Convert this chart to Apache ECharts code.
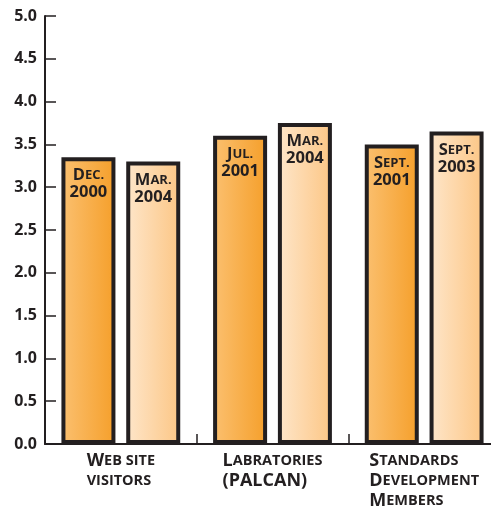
<!DOCTYPE html>
<html>
<head>
<meta charset="utf-8">
<script src="https://cdn.jsdelivr.net/npm/echarts@6/dist/echarts.min.js"></script>
<style>
  html, body { margin: 0; padding: 0; background: #ffffff; overflow: hidden; }
  #chart { width: 491px; height: 506px; }
</style>
</head>
<body>
<div id="chart"></div>
<script>
// Categories along the x axis (capitals are drawn full size, the rest in small caps)
const categories = ['Web site\nvisitors', 'Labratories\n(PALCAN)', 'Standards\nDevelopment\nMembers'];

// Earlier measurement for each category
const earlierLabels = ['Dec.\n2000', 'Jul.\n2001', 'Sept.\n2001'];
const earlierValues = [3.35, 3.6, 3.5];

// Later measurement for each category
const laterLabels = ['Mar.\n2004', 'Mar.\n2004', 'Sept.\n2003'];
const laterValues = [3.3, 3.75, 3.65];

// Value axis range
const yMin = 0;
const yMax = 5;
const yStep = 0.5;

const INK = '#231f20';
const FONT = '"Open Sans", "DejaVu Sans", sans-serif';

// Turn a plain string into rich-text tokens that imitate small capitals:
// upper-case letters, digits and brackets use the "b" style, lower-case runs use "s".
function smallCaps(text, big, small) {
  return text.split('\n').map(function (line) {
    let out = '';
    let run = '';
    let kind = null;
    for (const ch of line) {
      let k;
      if (/[a-z]/.test(ch)) k = small;
      else if (/[A-Z0-9()]/.test(ch)) k = big;
      else k = kind || big;
      if (k !== kind && run) {
        out += '{' + kind + '|' + run + '}';
        run = '';
      }
      kind = k;
      run += (k === small ? ch.toUpperCase() : ch);
    }
    if (run) out += '{' + kind + '|' + run + '}';
    return out;
  }).join('\n');
}

const chart = echarts.init(document.getElementById('chart'), null, { renderer: 'canvas' });

function barGradient(from, to) {
  return new echarts.graphic.LinearGradient(0, 0, 1, 0, [
    { offset: 0, color: from },
    { offset: 1, color: to }
  ]);
}

const barLabelRich = {
  b: { fontFamily: FONT, fontWeight: 'bold', fontSize: 16.5, color: INK, lineHeight: 17 },
  s: { fontFamily: FONT, fontWeight: 'bold', fontSize: 13, color: INK, lineHeight: 17 }
};

function barLabel(texts) {
  return {
    show: true,
    position: 'insideTop',
    distance: 10,
    formatter: function (p) { return smallCaps(texts[p.dataIndex], 'b', 's'); },
    rich: barLabelRich
  };
}

chart.setOption({
  animation: false,
  backgroundColor: '#ffffff',
  grid: { left: 45, right: -9, top: 16, bottom: 62, containLabel: false, outerBoundsMode: 'none' },
  xAxis: {
    type: 'category',
    data: categories,
    axisLine: { show: true, lineStyle: { color: INK, width: 2 } },
    axisTick: { show: true, inside: true, length: 10, alignWithLabel: false, lineStyle: { color: INK, width: 1.5 } },
    axisLabel: {
      interval: 0,
      margin: 7,
      align: 'center',
      formatter: function (v) { return smallCaps(v, 'b', 's'); },
      rich: {
        b: { fontFamily: FONT, fontWeight: 'bold', fontSize: 18, color: INK, lineHeight: 20, align: 'left' },
        s: { fontFamily: FONT, fontWeight: 'bold', fontSize: 14.5, color: INK, lineHeight: 20, align: 'left' }
      }
    },
    splitLine: { show: false }
  },
  yAxis: {
    type: 'value',
    min: yMin,
    max: yMax,
    interval: yStep,
    axisLine: { show: true, lineStyle: { color: INK, width: 2 } },
    axisTick: { show: true, inside: true, length: 11, lineStyle: { color: INK, width: 1.5 } },
    axisLabel: {
      margin: 8,
      color: INK,
      fontFamily: FONT,
      fontWeight: 'bold',
      fontSize: 16,
      formatter: function (v) { return v.toFixed(1); }
    },
    splitLine: { show: false }
  },
  series: [
    {
      type: 'bar',
      data: earlierValues,
      barWidth: 54,
      barGap: '20%',
      itemStyle: {
        color: barGradient('#fbc070', '#f59f2a'),
        borderColor: INK,
        borderWidth: 4
      },
      label: barLabel(earlierLabels)
    },
    {
      type: 'bar',
      data: laterValues,
      barWidth: 54,
      barGap: '20%',
      itemStyle: {
        color: barGradient('#fee6ca', '#fcc685'),
        borderColor: INK,
        borderWidth: 4
      },
      label: barLabel(laterLabels)
    }
  ]
});
</script>
</body>
</html>
